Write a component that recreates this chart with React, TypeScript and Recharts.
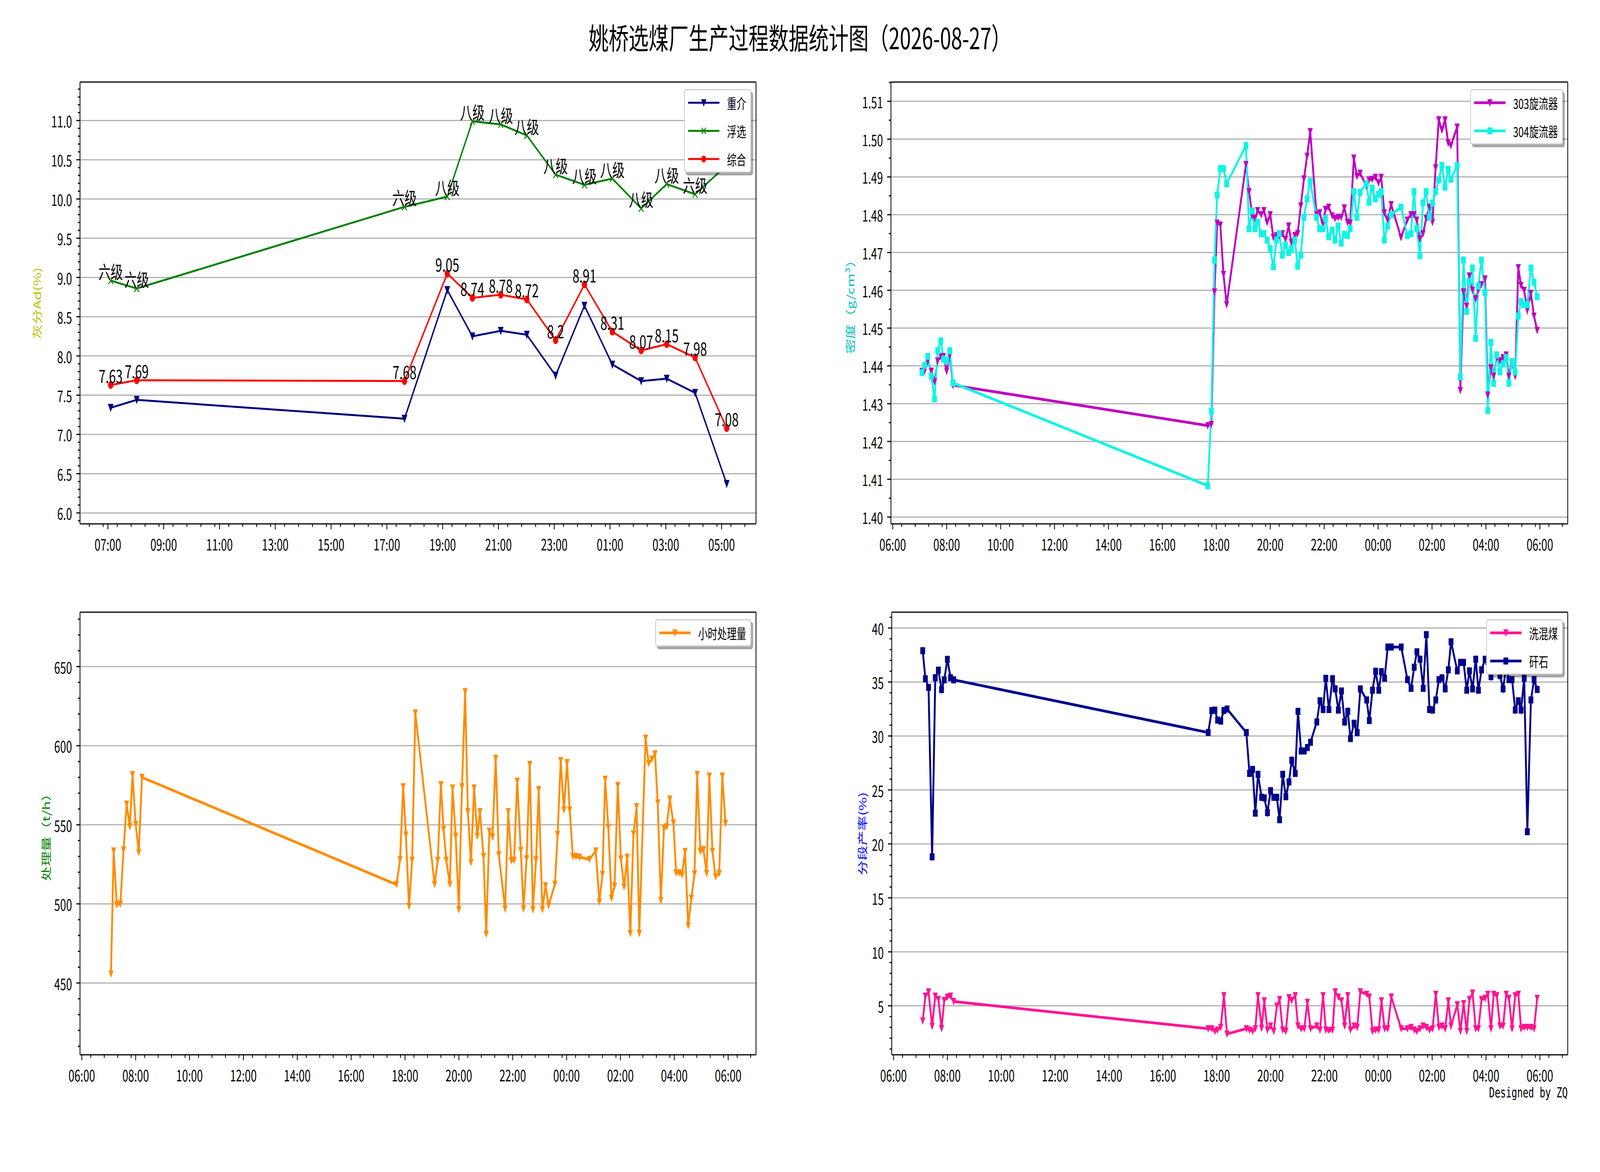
import React from 'react';
import { LineChart, Line, XAxis, YAxis, ReferenceLine, Legend, LabelList } from 'recharts';

const FONT = '"Noto Sans CJK SC", "Noto Sans", sans-serif';
const MONO = '"DejaVu Sans Mono", "Noto Sans CJK SC", monospace';

// ---- top-left: 灰分 (hourly) ----
const ashTimes = [426, 482, 1058, 1150, 1204, 1265, 1321, 1383, 1445, 1505, 1567, 1622, 1683, 1751];
const heavyAsh = [7.34, 7.44, 7.2, 8.84, 8.25, 8.32, 8.27, 7.75, 8.64, 7.89, 7.68, 7.71, 7.53, 6.37];
const flotAsh = [8.96, 8.86, 9.9, 10.03, 10.99, 10.95, 10.81, 10.31, 10.18, 10.26, 9.88, 10.19, 10.06, 10.43];
const totalAsh = [7.63, 7.69, 7.68, 9.05, 8.74, 8.78, 8.72, 8.2, 8.91, 8.31, 8.07, 8.15, 7.98, 7.08];
// last grade sits under the legend in the original, so it is left blank
const flotGrade = ['六级', '六级', '六级', '八级', '八级', '八级', '八级', '八级', '八级', '八级', '八级', '八级', '六级', ''];

// ---- shared sample times (minutes from 00:00, next day + 1440) ----
const sampleTimes = [
  425, 431, 438, 446, 453, 460, 467, 473, 480, 487, 494,
  1061, 1069, 1076, 1082, 1089, 1096, 1103, 1146, 1153, 1160,
  1166, 1172, 1180, 1186, 1193, 1200, 1207, 1214, 1220, 1227,
  1234, 1241, 1247, 1255, 1261, 1268, 1275, 1282, 1289, 1303,
  1310, 1317, 1323, 1330, 1338, 1344, 1351, 1358, 1365, 1372,
  1378, 1386, 1393, 1400, 1414, 1420, 1427, 1434, 1441, 1447,
  1454, 1461, 1469, 1491, 1505, 1513, 1520, 1526, 1533, 1540,
  1547, 1554, 1561, 1568, 1575, 1582, 1589, 1596, 1602, 1616,
  1623, 1630, 1637, 1643, 1650, 1657, 1663, 1670, 1678, 1684,
  1691, 1697, 1704, 1711, 1718, 1725, 1731, 1738, 1745, 1752,
  1758, 1765, 1772, 1780, 1787, 1794,
];

const cyclone303 = [
  1.4386, 1.4386, 1.4413, 1.4386, 1.4358, 1.4413, 1.4425, 1.4425, 1.4386, 1.4428, 1.4349,
  1.4242, 1.4245, 1.4596, 1.4778, 1.4773, 1.4642, 1.4562, 1.4933, 1.4861, 1.4797,
  1.479, 1.4811, 1.48, 1.4811, 1.478, 1.48, 1.474, 1.4745, 1.4745, 1.475,
  1.4735, 1.477, 1.4727, 1.4745, 1.475, 1.4823, 1.4895, 1.4955, 1.502, 1.48,
  1.4805, 1.4776, 1.4814, 1.482, 1.4797, 1.479, 1.4793, 1.4793, 1.4818, 1.478,
  1.4778, 1.495, 1.4902, 1.491, 1.4876, 1.4892, 1.4894, 1.4899, 1.4884, 1.4899,
  1.4805, 1.4786, 1.4827, 1.474, 1.4786, 1.48, 1.48, 1.4786, 1.4736, 1.475,
  1.479, 1.482, 1.478, 1.4924, 1.5051, 1.5024, 1.5051, 1.499, 1.4983, 1.5032,
  1.4335, 1.4596, 1.4558, 1.4638, 1.46, 1.4577, 1.46, 1.4615, 1.463, 1.4323,
  1.4395, 1.4373, 1.4422, 1.4414, 1.4422, 1.4429, 1.4373, 1.4411, 1.4373, 1.466,
  1.4613, 1.46, 1.4547, 1.4592, 1.4532, 1.4494,
];

const cyclone304 = [
  1.4382, 1.4401, 1.4425, 1.4373, 1.4313, 1.444, 1.4466, 1.4418, 1.4413, 1.444, 1.4355,
  1.4083, 1.428, 1.468, 1.4852, 1.4922, 1.4922, 1.4882, 1.4983, 1.4763, 1.481,
  1.4763, 1.478, 1.475, 1.475, 1.4733, 1.471, 1.4662, 1.4733, 1.475, 1.4693,
  1.472, 1.47, 1.471, 1.4733, 1.4664, 1.4693, 1.4793, 1.4842, 1.4888, 1.4793,
  1.4763, 1.4763, 1.479, 1.4742, 1.4759, 1.4733, 1.477, 1.4725, 1.4748, 1.4745,
  1.4763, 1.4861, 1.4793, 1.4859, 1.4882, 1.4833, 1.487, 1.4842, 1.4854, 1.4861,
  1.4733, 1.477, 1.48, 1.482, 1.4745, 1.475, 1.4861, 1.4763, 1.4692, 1.4831,
  1.4861, 1.4793, 1.4831, 1.4861, 1.4892, 1.493, 1.4873, 1.492, 1.4894, 1.493,
  1.4371, 1.468, 1.4544, 1.4623, 1.4659, 1.4473, 1.4611, 1.468, 1.4594, 1.4282,
  1.4462, 1.4354, 1.4429, 1.4384, 1.4405, 1.4422, 1.4354, 1.4411, 1.4384, 1.4532,
  1.457, 1.4562, 1.4562, 1.4659, 1.4621, 1.4583,
];

const hourlyFeed = [
  455.7, 533.5, 499.5, 500.0, 534.1, 563.1, 548.9, 581.8, 550.3, 532.5, 580.0,
  512.2, 527.9, 574.1, 543.6, 498.5, 527.6, 620.8, 512.4, 527.6, 575.4,
  547.1, 527.6, 512.4, 573.3, 542.8, 496.4, 574.1, 634.2, 558.3, 526.3,
  573.3, 542.8, 558.3, 530.0, 480.9, 546.0, 542.3, 592.0, 531.1, 496.9,
  558.3, 527.3, 527.6, 577.6, 533.8, 496.9, 528.6, 588.2, 496.4, 527.9,
  572.2, 496.4, 511.5, 499.0, 512.4, 543.9, 590.6, 559.4, 589.3, 559.4,
  530.0, 530.0, 529.5, 528.2, 533.5, 501.2, 518.6, 578.8, 548.5, 503.6,
  511.3, 574.9, 528.4, 510.8, 529.5, 481.4, 544.2, 561.5, 481.4, 604.8,
  588.8, 591.5, 594.9, 563.9, 502.2, 547.9, 548.7, 566.3, 551.1, 519.7,
  519.7, 518.3, 533.2, 486.2, 503.6, 519.0, 581.8, 533.2, 534.3, 519.3,
  580.8, 533.2, 517.2, 519.3, 580.8, 550.9,
];

const middlingYield = [
  3.6, 5.9, 6.3, 3.1, 5.9, 5.6, 2.9, 5.5, 5.8, 5.9, 5.4,
  2.88, 2.88, 2.64, 2.76, 3.0, 5.94, 2.39, 2.88, 2.76, 2.64,
  2.88, 5.94, 2.93, 5.46, 2.76, 3.13, 2.64, 4.97, 5.58, 2.76,
  2.64, 5.75, 5.5, 5.94, 3.13, 2.88, 2.88, 5.33, 2.88, 3.13,
  2.76, 5.94, 2.76, 2.71, 2.76, 6.31, 5.82, 5.46, 3.13, 5.94,
  2.76, 3.13, 3.0, 6.31, 6.07, 5.82, 2.64, 2.76, 2.76, 5.46,
  2.88, 2.88, 5.82, 2.88, 2.88, 3.0, 2.76, 2.64, 2.88, 3.13,
  3.0, 2.76, 2.88, 6.07, 3.0, 3.13, 2.88, 5.46, 3.13, 5.09,
  2.64, 5.21, 2.64, 5.58, 6.19, 2.88, 2.88, 5.58, 5.7, 6.07,
  2.88, 6.07, 5.94, 3.13, 3.13, 6.07, 5.7, 2.88, 5.94, 6.07,
  2.88, 3.0, 3.0, 3.0, 2.88, 5.7,
];

const refuseYield = [
  37.9, 35.3, 34.5, 18.8, 35.4, 36.1, 34.3, 35.2, 37.1, 35.4, 35.2,
  30.32, 32.36, 32.4, 31.47, 31.38, 32.36, 32.5, 30.32, 26.53, 26.9,
  22.85, 26.45, 24.32, 24.27, 22.9, 24.93, 24.32, 24.32, 22.24, 26.45,
  24.37, 25.74, 27.75, 26.53, 32.28, 28.61, 28.61, 28.93, 29.42, 31.3,
  33.26, 32.45, 35.34, 32.45, 35.3, 34.36, 32.4, 34.17, 31.3, 32.28,
  29.76, 31.18, 30.32, 34.36, 33.34, 31.43, 34.24, 36.0, 34.24, 35.96,
  35.35, 38.24, 38.24, 38.24, 35.22, 34.41, 36.37, 37.8, 37.11, 34.41,
  39.39, 32.45, 32.4, 33.34, 35.22, 35.39, 34.36, 36.13, 38.73, 36.03,
  36.82, 36.82, 34.24, 36.03, 34.36, 37.11, 34.24, 36.13, 37.11, 36.9,
  35.5, 37.0, 36.2, 35.6, 34.36, 36.5, 35.22, 35.22, 32.4, 33.26,
  32.4, 35.35, 21.13, 33.34, 35.22, 34.31,
];

// ---- axes ----
const ashXTicks = [420, 540, 660, 780, 900, 1020, 1140, 1260, 1380, 1500, 1620, 1740];
const dayXTicks = [360, 480, 600, 720, 840, 960, 1080, 1200, 1320, 1440, 1560, 1680, 1800];
const ashYTicks = [6.0, 6.5, 7.0, 7.5, 8.0, 8.5, 9.0, 9.5, 10.0, 10.5, 11.0];
const densityYTicks = [1.4, 1.41, 1.42, 1.43, 1.44, 1.45, 1.46, 1.47, 1.48, 1.49, 1.5, 1.51];
const feedYTicks = [450, 500, 550, 600, 650];
const yieldYTicks = [5, 10, 15, 20, 25, 30, 35, 40];

const steps = (from: number, to: number, step: number) => {
  const out: number[] = [];
  const n = Math.round((to - from) / step);
  for (let i = 0; i <= n; i++) out.push(+(from + i * step).toFixed(4));
  return out;
};
const minorOf = (all: number[], majors: number[]) => {
  const s = new Set(majors.map((v) => v.toFixed(4)));
  return all.filter((v) => !s.has(v.toFixed(4)));
};

const hhmm = (m: number) => {
  const d = ((m % 1440) + 1440) % 1440;
  return `${String(Math.floor(d / 60)).padStart(2, '0')}:${String(d % 60).padStart(2, '0')}`;
};

const ashRows = ashTimes.map((t, i) => ({ t, heavy: heavyAsh[i], flot: flotAsh[i], total: totalAsh[i], grade: flotGrade[i] }));
const sampleRows = sampleTimes.map((t, i) => ({
  t,
  c303: cyclone303[i],
  c304: cyclone304[i],
  feed: hourlyFeed[i],
  mid: middlingYield[i],
  ref: refuseYield[i],
}));

type MarkerKind = 'tri' | 'sq' | 'dot' | 'x';
type Series = { key: string; name: string; color: string; marker: MarkerKind; labelKey?: string };

const Marker = ({ kind, cx, cy, color, r }: { kind: MarkerKind; cx: number; cy: number; color: string; r: number }) => {
  if (kind === 'tri')
    return <polygon points={`${cx - r},${cy - r} ${cx + r},${cy - r} ${cx},${cy + r}`} fill={color} stroke={color} strokeWidth={2} />;
  if (kind === 'sq') return <rect x={cx - r} y={cy - r} width={2 * r} height={2 * r} fill={color} stroke={color} strokeWidth={2} />;
  if (kind === 'dot') return <circle cx={cx} cy={cy} r={r} fill={color} stroke={color} strokeWidth={2} />;
  return (
    <path d={`M${cx - r},${cy - r}L${cx + r},${cy + r}M${cx - r},${cy + r}L${cx + r},${cy - r}`} stroke={color} strokeWidth={3} fill="none" />
  );
};

const YW = 300;
const MT = 20;
const MR = 20;
const XH = 120;

const LegendBox = ({ items, sw }: { items: Series[]; sw: number }) => (
  <div
    style={{
      background: '#fff',
      border: '3px solid #cccccc',
      borderRadius: 8,
      boxShadow: '7px 7px 0 rgba(0,0,0,0.35)',
      padding: '0 16px 0 12px',
      fontFamily: FONT,
      fontSize: 36,
      color: '#000',
    }}
  >
    {items.map((it, i) => (
      <div key={it.key} style={{ height: 64, marginTop: i === 0 ? 0 : 8, display: 'flex', alignItems: 'center' }}>
        <svg width={118} height={30} style={{ display: 'block' }}>
          <line x1={0} x2={118} y1={15} y2={15} stroke={it.color} strokeWidth={sw} />
          <Marker kind={it.marker} cx={59} cy={15} color={it.color} r={8} />
        </svg>
        <span style={{ marginLeft: 28, whiteSpace: 'nowrap', lineHeight: 1 }}>{it.name}</span>
      </div>
    ))}
  </div>
);

type PanelProps = {
  plot: { x0: number; x1: number; y0: number; y1: number };
  data: any[];
  series: Series[];
  xDomain: [number, number];
  xMajor: number[];
  xMinor: number[];
  yDomain: [number, number];
  yMajor: number[];
  yMinor: number[];
  yFmt: (v: number) => string;
  yLabel: string;
  yLabelColor: string;
  labelDx: number;
  sw: number;
  mr: number;
};

const Panel = (p: PanelProps) => {
  const plotW = p.plot.x1 - p.plot.x0;
  const plotH = p.plot.y1 - p.plot.y0;
  const w = plotW + YW + MR;
  const h = plotH + MT + XH;
  const xMajSet = new Set(p.xMajor);
  const yMajSet = new Set(p.yMajor.map((v) => v.toFixed(4)));
  const xTicks = [...p.xMajor, ...p.xMinor].sort((a, b) => a - b);
  const yTicks = [...p.yMajor, ...p.yMinor].sort((a, b) => a - b);

  const XTick = (t: any) => {
    const v = t.payload.value;
    const major = xMajSet.has(v);
    return (
      <g>
        <line x1={t.x} x2={t.x} y1={t.y} y2={t.y + (major ? 14 : 8)} stroke="#000" strokeWidth={3} />
        {major ? (
          <text x={t.x} y={t.y + 50} textAnchor="middle" dominantBaseline="central" fontSize={40} fontFamily={FONT} fill="#000">
            {hhmm(v)}
          </text>
        ) : null}
      </g>
    );
  };
  const YTick = (t: any) => {
    const v = t.payload.value;
    const major = yMajSet.has(Number(v).toFixed(4));
    return (
      <g>
        <line x1={t.x - (major ? 14 : 8)} x2={t.x} y1={t.y} y2={t.y} stroke="#000" strokeWidth={3} />
        {major ? (
          <text x={t.x - 30} y={t.y} textAnchor="end" dominantBaseline="central" fontSize={40} fontFamily={FONT} fill="#000">
            {p.yFmt(v)}
          </text>
        ) : null}
      </g>
    );
  };
  const AnnText = (a: any) => {
    const x = a.x ?? a.viewBox?.x;
    const y = a.y ?? a.viewBox?.y;
    if (a.value === '' || a.value == null) return <g />;
    return (
      <text x={x} y={y - 5} textAnchor="middle" fontSize={46} fontFamily={FONT} fill="#000">
        {String(a.value)}
      </text>
    );
  };

  return (
    <div style={{ position: 'absolute', left: p.plot.x0 - YW, top: p.plot.y0 - MT, width: w, height: h }}>
      <LineChart width={w} height={h} data={p.data} margin={{ top: MT, right: MR, left: 0, bottom: 0 }}>
        <XAxis
          type="number"
          dataKey="t"
          domain={p.xDomain}
          allowDataOverflow
          ticks={xTicks}
          interval={0}
          tickSize={0}
          tickMargin={0}
          tickLine={false}
          axisLine={{ stroke: '#000', strokeWidth: 3 }}
          height={XH}
          tick={XTick}
        />
        <YAxis
          type="number"
          domain={p.yDomain}
          allowDataOverflow
          ticks={yTicks}
          interval={0}
          tickSize={0}
          tickMargin={0}
          tickLine={false}
          axisLine={{ stroke: '#000', strokeWidth: 3 }}
          width={YW}
          tick={YTick}
        />
        {p.yMajor.map((v) => (
          <ReferenceLine key={`g${v}`} y={v} stroke="#b0b0b0" strokeWidth={3} />
        ))}
        <ReferenceLine y={p.yDomain[1]} stroke="#000" strokeWidth={3} />
        <ReferenceLine x={p.xDomain[1]} stroke="#000" strokeWidth={3} />
        {p.series.map((s) => (
          <Line
            key={s.key}
            type="linear"
            dataKey={s.key}
            name={s.name}
            stroke={s.color}
            strokeWidth={p.sw}
            isAnimationActive={false}
            activeDot={false}
            dot={(d: any) => <Marker key={`${s.key}${d.index}`} kind={s.marker} cx={d.cx} cy={d.cy} color={s.color} r={p.mr} />}
          >
            {s.labelKey ? <LabelList dataKey={s.labelKey} content={AnnText} /> : null}
          </Line>
        ))}
        <Legend
          layout="horizontal"
          align="center"
          verticalAlign="middle"
          wrapperStyle={{ top: MT + 18, right: MR + 18, left: 'auto', width: 'auto', height: 'auto' }}
          content={() => <LegendBox items={p.series} sw={p.sw} />}
        />
      </LineChart>
      <div
        style={{
          position: 'absolute',
          left: YW - p.labelDx,
          top: MT + plotH / 2,
          transform: 'translate(-50%, -50%) rotate(-90deg)',
          whiteSpace: 'nowrap',
          fontFamily: FONT,
          fontSize: 38,
          lineHeight: 1,
          color: p.yLabelColor,
        }}
      >
        {p.yLabel}
      </div>
    </div>
  );
};

const dayDomain: [number, number] = [356, 1862];
const dayMinor = steps(380, 1850, 30);

const PAGE_W = 6000;
const PAGE_H = 3000;

export default function App() {
  // the browser may give a narrower window than asked for; squeeze the page to fit it
  const vw = typeof window !== 'undefined' ? window.innerWidth : PAGE_W;
  const vh = typeof window !== 'undefined' ? window.innerHeight : PAGE_H;
  const sx = Math.min(1, vw / PAGE_W);
  const sy = Math.min(1, vh / PAGE_H);

  return (
    <div style={{ position: 'relative', width: PAGE_W * sx, height: PAGE_H * sy, overflow: 'hidden', background: '#fff' }}>
      <style>{'body{margin:0;}'}</style>
      <div
        style={{
          position: 'absolute',
          left: 0,
          top: 0,
          width: PAGE_W,
          height: PAGE_H,
          transform: `scale(${sx}, ${sy})`,
          transformOrigin: '0 0',
          background: '#fff',
        }}
      >
        <div
          style={{
            position: 'absolute',
            left: 0,
            top: 56,
            width: PAGE_W,
            textAlign: 'center',
            fontFamily: FONT,
            fontSize: 75,
            lineHeight: 1,
            color: '#000',
          }}
        >
          姚桥选煤厂生产过程数据统计图（2026-08-27）
        </div>

        <Panel
          plot={{ x0: 300, x1: 2835, y0: 210, y1: 1341 }}
          data={ashRows}
          series={[
            { key: 'heavy', name: '重介', color: '#000080', marker: 'tri' },
            { key: 'flot', name: '浮选', color: '#008000', marker: 'x', labelKey: 'grade' },
            { key: 'total', name: '综合', color: '#ff0000', marker: 'dot', labelKey: 'total' },
          ]}
          xDomain={[360, 1814]}
          xMajor={ashXTicks}
          xMinor={steps(380, 1790, 30)}
          yDomain={[5.86, 11.49]}
          yMajor={ashYTicks}
          yMinor={minorOf(steps(5.9, 11.4, 0.1), ashYTicks)}
          yFmt={(v) => v.toFixed(1)}
          yLabel="灰分Ad(%)"
          yLabelColor="#bfbf00"
          labelDx={162}
          sw={5}
          mr={9}
        />

        <Panel
          plot={{ x0: 3341, x1: 5879, y0: 210, y1: 1341 }}
          data={sampleRows}
          series={[
            { key: 'c303', name: '303旋流器', color: '#bf00bf', marker: 'tri' },
            { key: 'c304', name: '304旋流器', color: '#0cf5e4', marker: 'sq' },
          ]}
          xDomain={dayDomain}
          xMajor={dayXTicks}
          xMinor={dayMinor}
          yDomain={[1.3982, 1.5151]}
          yMajor={densityYTicks}
          yMinor={minorOf(steps(1.4, 1.515, 0.005), densityYTicks)}
          yFmt={(v) => v.toFixed(2)}
          yLabel="密度（g/cm³）"
          yLabelColor="#00bfbf"
          labelDx={154}
          sw={7}
          mr={8}
        />

        <Panel
          plot={{ x0: 300, x1: 2835, y0: 1567, y1: 2700 }}
          data={sampleRows}
          series={[{ key: 'feed', name: '小时处理量', color: '#ff8c00', marker: 'tri' }]}
          xDomain={dayDomain}
          xMajor={dayXTicks}
          xMinor={dayMinor}
          yDomain={[404.6, 684.4]}
          yMajor={feedYTicks}
          yMinor={minorOf(steps(410, 680, 10), feedYTicks)}
          yFmt={(v) => String(v)}
          yLabel="处理量（t/h）"
          yLabelColor="#008000"
          labelDx={128}
          sw={7}
          mr={8}
        />

        <Panel
          plot={{ x0: 3344, x1: 5879, y0: 1567, y1: 2700 }}
          data={sampleRows}
          series={[
            { key: 'mid', name: '洗混煤', color: '#ff1493', marker: 'tri' },
            { key: 'ref', name: '矸石', color: '#00008b', marker: 'sq' },
          ]}
          xDomain={dayDomain}
          xMajor={dayXTicks}
          xMinor={dayMinor}
          yDomain={[0.46, 41.47]}
          yMajor={yieldYTicks}
          yMinor={minorOf(steps(1, 41, 1), yieldYTicks)}
          yFmt={(v) => String(v)}
          yLabel="分段产率(%)"
          yLabelColor="#0000ff"
          labelDx={111}
          sw={7}
          mr={8}
        />

        <div
          style={{
            position: 'absolute',
            right: PAGE_W - 5879,
            top: 2780,
            fontFamily: MONO,
            fontSize: 35,
            lineHeight: 1,
            color: '#000',
            whiteSpace: 'nowrap',
          }}
        >
          Designed by ZQ
        </div>
      </div>
    </div>
  );
}
